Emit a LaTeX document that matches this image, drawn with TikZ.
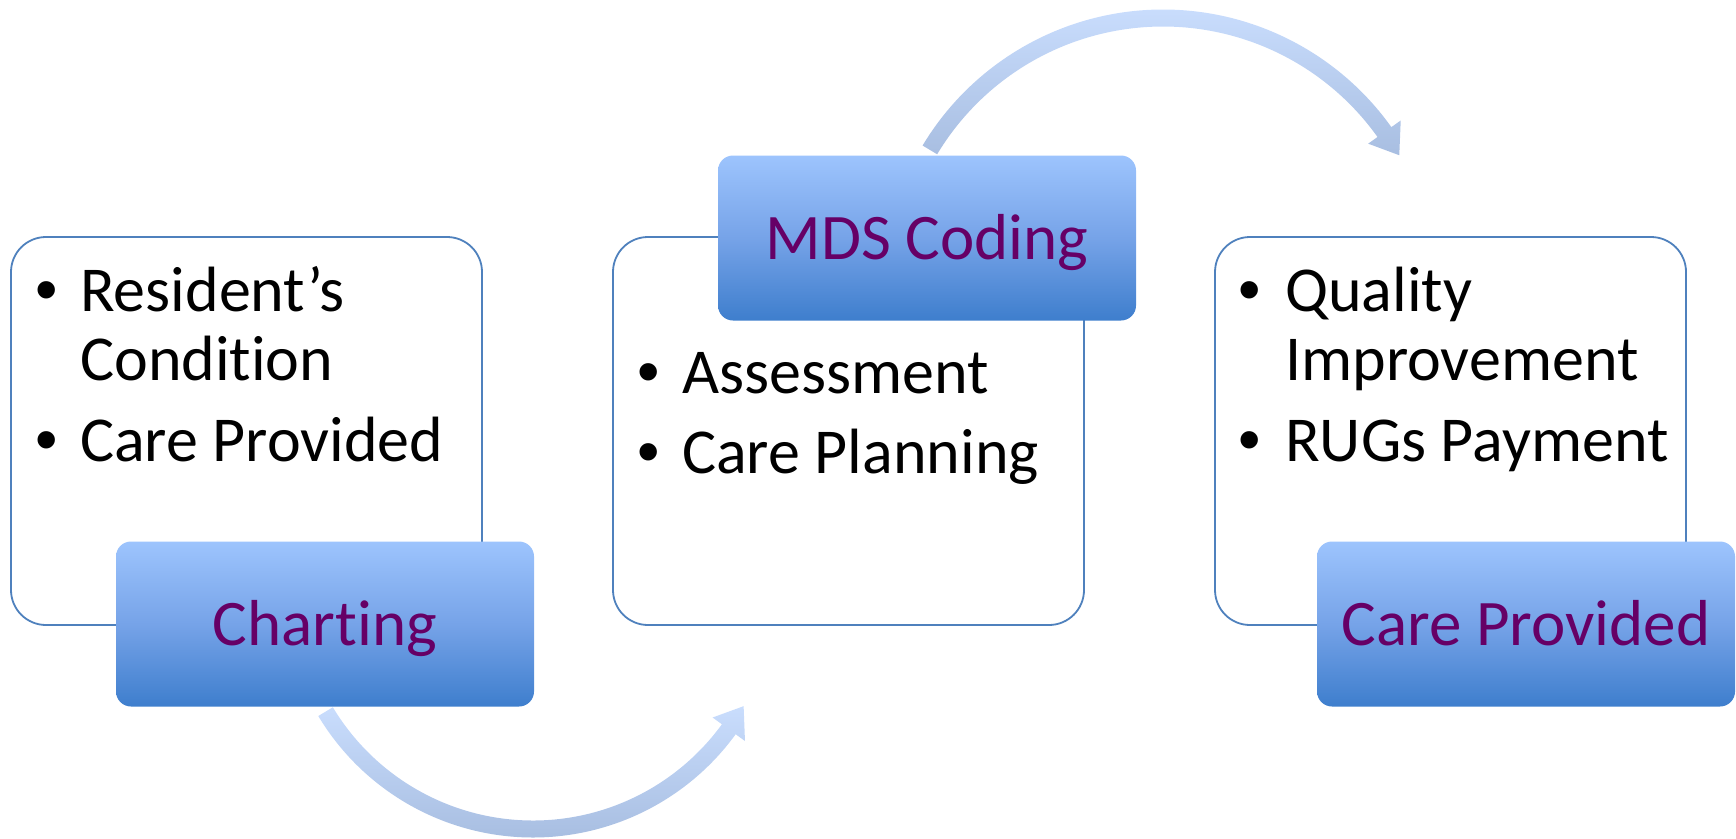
\documentclass[tikz,border=0pt]{standalone}
\usepackage{fontspec}
\setmainfont{Carlito}[Ligatures={NoCommon,NoContextual,NoRare}]
\newfontfamily\bulletfont{Liberation Sans}
\usetikzlibrary{calc}
\newcommand{\nolig}{\kern0pt}
\definecolor{boxline}{RGB}{79,129,189}
\definecolor{lblue}{RGB}{157,196,253}
\definecolor{mblue}{RGB}{118,163,232}
\definecolor{dblue}{RGB}{62,126,205}
\definecolor{alight}{RGB}{201,221,253}
\definecolor{adark}{RGB}{168,190,225}
\definecolor{labelpurple}{RGB}{102,0,102}
\tikzset{
  whitebox/.style={draw=boxline, line width=1.8pt, fill=white, rounded corners=35pt,
    minimum width=471pt, minimum height=388pt, inner sep=0pt},
  bluebox/.style={rounded corners=15pt, top color=lblue, bottom color=dblue, middle color=mblue,
    minimum width=418pt, minimum height=165pt, inner sep=0pt, text=labelpurple,
    font=\fontsize{65}{70}\selectfont, text height=42pt, text depth=0pt},
  itemtext/.style={anchor=base west, inner sep=0pt, font=\fontsize{64}{70}\selectfont},
  bulletmark/.style={anchor=base, inner sep=0pt, font=\bulletfont\fontsize{64}{70}\selectfont},
  arrowfill/.style={top color=alight, bottom color=adark, draw=none},
}
\begin{document}
\begin{tikzpicture}[x=1pt,y=1pt]
\useasboundingbox (0,0) rectangle (1736,-838);
% curved arrows
\coordinate (c1) at (533,-587);
\coordinate (c2) at (1163,-290);
\shade[arrowfill] ($(c1)+(211:250.5)$) arc[start angle=211,end angle=324,radius=250.5]
  -- ($(c1)+(324:262)$) -- ($(c1)+(330.5:242)$) -- ($(c1)+(324:222)$)
  -- ($(c1)+(324:233.5)$) arc[start angle=324,end angle=211,radius=233.5] -- cycle;
\shade[arrowfill] ($(c2)+(149:280.5)$) arc[start angle=149,end angle=35.5,radius=280.5]
  -- ($(c2)+(35.5:292)$) -- ($(c2)+(29.7:272)$) -- ($(c2)+(35.5:252)$)
  -- ($(c2)+(35.5:263.5)$) arc[start angle=35.5,end angle=149,radius=263.5] -- cycle;
% white boxes
\node[whitebox] (w1) at (246.5,-431) {};
\node[whitebox] (w2) at (848.5,-431) {};
\node[whitebox] (w3) at (1450.5,-431) {};
% blue label boxes
\node[bluebox] (l1) at (325,-624) {Chart\nolig ing};
\node[bluebox] (l2) at (927,-238) {MDS Coding};
\node[bluebox] (l3) at (1526,-624) {Care Provided};
% left items
\node[bulletmark] (b11) at (47,-311) {•};
\node[itemtext] (t11) at (80,-311) {Resident’s};
\node[itemtext] (t12) at (80,-380) {Condit\nolig ion};
\node[bulletmark] (b12) at (47,-461) {•};
\node[itemtext] (t13) at (80,-461) {Care Provided};
% middle items
\node[bulletmark] (b21) at (649,-393) {•};
\node[itemtext] (t21) at (682,-393) {Assessment};
\node[bulletmark] (b22) at (649,-473) {•};
\node[itemtext] (t22) at (682,-473) {Care Planning};
% right items
\node[bulletmark] (b31) at (1250,-311) {•};
\node[itemtext] (t31) at (1285,-311) {Quality};
\node[itemtext] (t32) at (1285,-380) {Improvement};
\node[bulletmark] (b32) at (1250,-461) {•};
\node[itemtext] (t33) at (1285,-461) {RUGs Payment};
\end{tikzpicture}
\end{document}
